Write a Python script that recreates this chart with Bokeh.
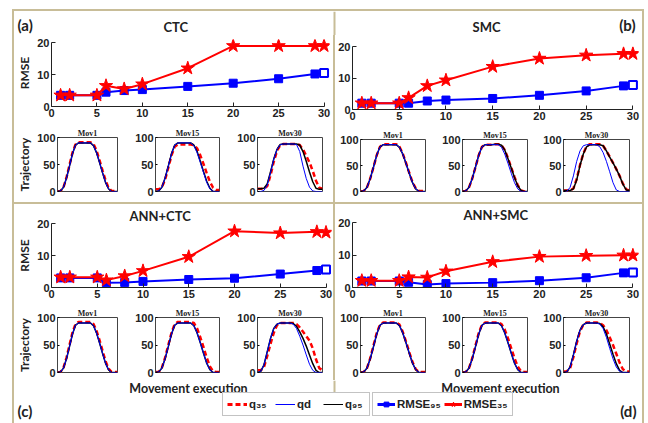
from bokeh.plotting import figure
from bokeh.layouts import column, row
from bokeh.models import (Spacer, Range1d, Label, Legend, LegendItem, FixedTicker,
                          BoxAnnotation)
from bokeh.embed import file_html
from bokeh.resources import INLINE

# ---------------- data ----------------
EXEC = [1, 2, 5, 6, 8, 10, 15, 20, 25, 29, 30]
RMSE_X_TICKS = [0, 5, 10, 15, 20, 25, 30]
RMSE_Y_TICKS = [0, 10, 20]
TRAJ_Y_TICKS = [0, 50, 100]

CTC_RMSE95 = [3.5, 3.5, 3.5, 4.5, 5.0, 5.3, 6.3, 7.3, 8.7, 10.2, 10.5]
CTC_RMSE35 = [3.5, 3.5, 3.5, 6.5, 5.5, 7.0, 12.0, 19.0, 19.0, 19.0, 19.0]
SMC_RMSE95 = [2.0, 2.0, 2.0, 2.0, 2.7, 3.0, 3.5, 4.5, 5.9, 7.5, 7.8]
SMC_RMSE35 = [2.0, 2.0, 2.0, 3.7, 7.5, 9.3, 13.6, 16.2, 17.2, 17.7, 17.7]
ANNCTC_RMSE95 = [3.0, 3.0, 3.0, 1.5, 1.6, 1.9, 2.5, 2.9, 4.2, 5.3, 5.6]
ANNCTC_RMSE35 = [3.2, 3.2, 3.2, 2.3, 3.6, 5.2, 9.6, 17.6, 17.0, 17.4, 17.2]
ANNSMC_RMSE95 = [2.0, 2.0, 2.0, 1.6, 0.9, 1.2, 1.5, 2.1, 3.0, 4.5, 4.6]
ANNSMC_RMSE35 = [2.1, 2.1, 2.1, 3.2, 3.1, 5.0, 7.9, 9.5, 9.8, 9.9, 9.9]

PANEL_TITLES = ["CTC", "SMC", "ANN+CTC", "ANN+SMC"]
PANEL_TAGS = ["(a)", "(b)", "(c)", "(d)"]
MOV_TITLES = ["Mov1", "Mov15", "Mov30"]
X_LABEL = "Movement execution"
LEGEND_LABELS = ["q₃₅", "qd", "q₉₅", "RMSE₉₅", "RMSE₃₅"]

STEP = list(range(21))
QD = [0, 1, 8, 25, 47, 70, 86, 90, 90, 90, 90, 90, 85, 72, 54, 35, 17, 5, 0, 0, 0]
A_MOV1_Q35 = [0, 1, 8, 26, 49, 72, 87, 91, 91, 91, 91, 91, 88, 76, 58, 39, 21, 7, 1, 1, 1]
A_MOV15_Q35 = [4, 4, 8, 22, 44, 67, 83, 87, 87, 87, 87, 87, 86, 80, 67, 51, 34, 18, 7, 3, 3]
A_MOV15_Q95 = [0, 1, 8, 25, 47, 70, 86, 90, 90, 90, 90, 90, 86, 74, 56, 37, 19, 6, 0, 0, 0]
A_MOV30_QD = [0, 0, 2, 12, 35, 60, 78, 87, 88, 88, 88, 88, 87, 74, 47, 24, 8, 1, 0, 0, 0]
A_MOV30_Q95 = [5, 5, 6, 14, 36, 60, 78, 87, 88, 88, 88, 88, 88, 86, 74, 56, 36, 18, 6, 4, 4]
A_MOV30_Q35 = [5, 5, 5, 10, 30, 55, 75, 86, 88, 88, 88, 88, 88, 86, 78, 66, 54, 38, 20, 7, 5]
B_MOV1_Q35 = [0, 1, 8, 25, 47, 70, 86, 91, 91, 91, 91, 91, 86, 73, 55, 36, 18, 6, 1, 1, 1]
B_MOV15_Q35 = [0, 1, 8, 25, 47, 70, 86, 90, 90, 90, 91, 91, 89, 80, 64, 46, 28, 12, 2, 0, 0]
B_MOV15_Q95 = [0, 1, 8, 25, 47, 70, 86, 90, 90, 90, 91, 91, 89, 80, 63, 45, 27, 11, 2, 0, 0]
B_MOV30_QD = [0, 0, 8, 30, 58, 78, 88, 90, 90, 90, 90, 86, 75, 58, 38, 17, 3, 0, 0, 0, 0]
B_MOV30_Q95 = [2, 2, 2, 5, 22, 50, 72, 86, 90, 90, 90, 90, 88, 78, 66, 55, 43, 30, 14, 3, 2]
B_MOV30_Q35 = [2, 2, 2, 6, 24, 51, 73, 87, 91, 91, 91, 91, 88, 78, 67, 55, 43, 30, 15, 4, 2]
C_MOV1_Q35 = [0, 1, 9, 27, 50, 73, 88, 92, 92, 92, 92, 92, 88, 76, 59, 40, 21, 7, 1, 1, 1]
C_MOV15_Q35 = [1, 1, 9, 27, 50, 72, 88, 92, 92, 92, 92, 92, 90, 80, 64, 46, 27, 11, 2, 1, 1]
C_MOV30_QD = [0, 2, 14, 38, 62, 80, 88, 90, 90, 90, 90, 88, 80, 66, 50, 32, 15, 4, 0, 0, 0]
C_MOV30_Q95 = [0, 2, 14, 38, 62, 80, 88, 90, 90, 90, 90, 89, 84, 74, 62, 48, 32, 16, 4, 0, 0]
C_MOV30_Q35 = [4, 4, 10, 30, 52, 72, 86, 90, 90, 90, 90, 90, 88, 82, 74, 66, 58, 44, 24, 8, 4]
D_MOV1_Q35 = [0, 1, 8, 26, 49, 72, 87, 91, 91, 91, 91, 91, 87, 74, 56, 37, 19, 6, 1, 1, 1]
D_MOV15_Q35 = [0, 1, 8, 26, 49, 72, 87, 91, 91, 91, 91, 91, 88, 78, 62, 44, 26, 11, 2, 1, 1]
D_MOV30_QD = [0, 1, 10, 32, 57, 77, 87, 90, 90, 90, 90, 88, 80, 64, 44, 25, 10, 2, 0, 0, 0]
D_MOV30_Q95 = [0, 1, 10, 32, 57, 77, 87, 90, 90, 90, 90, 89, 83, 70, 52, 33, 16, 4, 0, 0, 0]
D_MOV30_Q35 = [2, 2, 8, 28, 53, 75, 87, 91, 91, 91, 91, 90, 86, 77, 64, 50, 34, 18, 6, 2, 2]

# (qd, q35, q95) per movement, per panel
TRAJ = [
    [(QD, A_MOV1_Q35, QD), (QD, A_MOV15_Q35, A_MOV15_Q95), (A_MOV30_QD, A_MOV30_Q35, A_MOV30_Q95)],
    [(QD, B_MOV1_Q35, QD), (QD, B_MOV15_Q35, B_MOV15_Q95), (B_MOV30_QD, B_MOV30_Q35, B_MOV30_Q95)],
    [(QD, C_MOV1_Q35, QD), (QD, C_MOV15_Q35, QD), (C_MOV30_QD, C_MOV30_Q35, C_MOV30_Q95)],
    [(QD, D_MOV1_Q35, QD), (QD, D_MOV15_Q35, QD), (D_MOV30_QD, D_MOV30_Q35, D_MOV30_Q95)],
]
RMSE = [(CTC_RMSE95, CTC_RMSE35), (SMC_RMSE95, SMC_RMSE35),
        (ANNCTC_RMSE95, ANNCTC_RMSE35), (ANNSMC_RMSE95, ANNSMC_RMSE35)]

# ---------------- style ----------------
BLUE = "#0000ff"
RED = "#ff0000"
FRAME = "#c8bd98"
INK = "#222222"
FONT_NUM = "Liberation Sans"
FONT_TXT = "Lato"


def base_fig(width, height, bl, br, bt, bb, xr, yr, axes=True):
    kw = {} if axes else dict(x_axis_type=None, y_axis_type=None)
    p = figure(width=width, height=height, output_backend="svg", toolbar_location=None,
               x_range=xr, y_range=yr, min_border_left=bl, min_border_right=br,
               min_border_top=bt, min_border_bottom=bb,
               background_fill_color="white", border_fill_color="white", **kw)
    p.grid.visible = False
    return p


def blank_fig(width, height, div_bottom=0):
    p = base_fig(width, height, 0, 0, 0, 0, Range1d(-3, -2), Range1d(-3, -2), axes=False)
    p.outline_line_color = None
    p.title.visible = False
    # frame divider between the left and right panels
    p.add_layout(BoxAnnotation(left=319, right=321, bottom=div_bottom, top=height,
                               left_units="screen", right_units="screen",
                               bottom_units="screen", top_units="screen",
                               fill_color=FRAME, fill_alpha=1.0, line_color=None))
    return p


def text(p, txt, x, y, align, size="15px", baseline="middle"):
    p.add_layout(Label(x=x, y=y, x_units="screen", y_units="screen", text=txt,
                       text_align=align, text_baseline=baseline, text_font=FONT_TXT,
                       text_font_size=size, text_font_style="bold", text_color=INK))


def rmse_fig(i, width, height, bl, br, bt, bb, y_end, ylabel, t_off=None):
    p = base_fig(width, height, bl, br, bt, bb, Range1d(0, 30.6), Range1d(0, y_end))
    p.outline_line_color = None
    if t_off is None:
        p.title.visible = False
    else:
        p.title.text = PANEL_TITLES[i]
        p.title.align = "left"
        p.title.offset = t_off
        p.title.standoff = 0
        p.title.text_font = FONT_TXT
        p.title.text_font_size = "13px"
        p.title.text_font_style = "bold"
        p.title.text_color = INK
    p.xaxis.ticker = FixedTicker(ticks=RMSE_X_TICKS)
    p.yaxis.ticker = FixedTicker(ticks=RMSE_Y_TICKS)
    p.xaxis.bounds = (0, 30)
    p.yaxis.bounds = (0, 20)
    for ax in p.axis:
        ax.major_tick_in = 4
        ax.major_tick_out = 0
        ax.minor_tick_line_color = None
        ax.axis_line_color = INK
        ax.major_tick_line_color = INK
        ax.major_label_text_font = FONT_NUM
        ax.major_label_text_font_size = "11px"
        ax.major_label_text_font_style = "bold"
        ax.major_label_text_color = INK
        ax.major_label_standoff = 2
    if ylabel:
        p.yaxis.axis_label = "RMSE"
        p.yaxis.axis_label_text_font = FONT_TXT
        p.yaxis.axis_label_text_font_size = "12px"
        p.yaxis.axis_label_text_font_style = "bold"
        p.yaxis.axis_label_text_color = INK
        p.yaxis.axis_label_standoff = 2
    y95, y35 = RMSE[i]
    p.line(EXEC, y95, line_color=BLUE, line_width=2)
    p.scatter(EXEC, y95, marker="square", size=8, fill_color=BLUE, line_color=BLUE)
    p.scatter(EXEC[-1:], y95[-1:], marker="square", size=8, fill_color="white",
              line_color=BLUE, line_width=2)
    p.line(EXEC, y35, line_color=RED, line_width=2)
    p.scatter(EXEC, y35, marker="star", size=14, fill_color=RED, line_color=RED)
    return p


def traj_fig(i, j, width, height, bl, br, bt, bb, ylabel=False):
    p = base_fig(width, height, bl, br, bt, bb, Range1d(0, 20), Range1d(0, 100))
    p.outline_line_color = "#444444"
    p.title.text = MOV_TITLES[j]
    p.title.align = "center"
    p.title.standoff = 0
    p.title.text_font = "Liberation Serif"
    p.title.text_font_size = "8px"
    p.title.text_font_style = "bold"
    p.title.text_color = INK
    p.yaxis.ticker = FixedTicker(ticks=TRAJ_Y_TICKS)
    ya = p.yaxis[0]
    ya.axis_line_color = None
    ya.major_tick_in = 2
    ya.major_tick_out = 0
    ya.minor_tick_line_color = None
    ya.major_label_text_font = FONT_NUM
    ya.major_label_text_font_size = "11px"
    ya.major_label_text_font_style = "bold"
    ya.major_label_text_color = INK
    ya.major_label_standoff = 2
    if ylabel:
        ya.axis_label = "Trajectory"
        ya.axis_label_text_font = FONT_TXT
        ya.axis_label_text_font_size = "12px"
        ya.axis_label_text_font_style = "bold"
        ya.axis_label_text_color = INK
        ya.axis_label_standoff = 2
    p.xaxis.visible = False
    qd, q35, q95 = TRAJ[i][j]
    p.line(STEP, q35, line_color=RED, line_width=2.5, line_dash="5 3")
    p.line(STEP, q95, line_color="black", line_width=1.5)
    p.line(STEP, qd, line_color=BLUE, line_width=1)
    return p


def bar(w, h):
    return Spacer(width=w, height=h, styles={"background-color": FRAME})


# header strip: panel tags (a), (b) and the titles CTC, SMC
header = blank_fig(628, 24)
text(header, PANEL_TAGS[0], 3, 11, "left")
text(header, PANEL_TITLES[0], 149, 9, "left", size="13px")
text(header, PANEL_TAGS[1], 621, 11, "right")
text(header, PANEL_TITLES[1], 458, 8.5, "left", size="13px")

# panel (a)
ra = rmse_fig(0, 319, 90, 29, 4, 4, 19, 21, True)
ta = row(traj_fig(0, 0, 114, 77, 38, 11, 12, 11, ylabel=True),
         traj_fig(0, 1, 98, 77, 27, 7, 12, 11),
         traj_fig(0, 2, 107, 77, 31, 11, 12, 11))
# panel (b)
rb = rmse_fig(1, 307, 93, 16, 4, 11, 19, 20, False)
tb = row(traj_fig(1, 0, 102, 74, 25, 12, 9, 11),
         traj_fig(1, 1, 101, 74, 25, 11, 9, 11),
         traj_fig(1, 2, 104, 74, 25, 13, 9, 11))
# panel (c)
rc = rmse_fig(2, 319, 101, 28, 2, 19, 18, 20, True, t_off=78)
tc = row(traj_fig(2, 0, 114, 75, 38, 11, 12, 8, ylabel=True),
         traj_fig(2, 1, 98, 75, 27, 7, 12, 8),
         traj_fig(2, 2, 107, 75, 31, 11, 12, 8))
# panel (d)
rd = rmse_fig(3, 307, 101, 16, 4, 18, 18, 20, False, t_off=111)
td = row(traj_fig(3, 0, 102, 75, 25, 12, 12, 8),
         traj_fig(3, 1, 101, 75, 25, 11, 12, 8),
         traj_fig(3, 2, 104, 75, 25, 13, 12, 8))

# bottom strip: x labels, legends, panel tags (data drawn off-view only to feed legend glyphs)
strip = blank_fig(628, 43, div_bottom=14)
text(strip, X_LABEL, 174, 35, "center", size="12.5px")
text(strip, X_LABEL, 486, 35, "center", size="12.5px")
text(strip, PANEL_TAGS[2], 3, 13, "left")
text(strip, PANEL_TAGS[3], 622, 13, "right")
l_q35 = strip.line(STEP, QD, line_color=RED, line_width=3, line_dash="5 3")
l_qd = strip.line(STEP, QD, line_color=BLUE, line_width=1)
l_q95 = strip.line(STEP, QD, line_color="black", line_width=1)
l_r95 = strip.line(EXEC, CTC_RMSE95, line_color=BLUE, line_width=3)
m_r95 = strip.scatter(EXEC, CTC_RMSE95, marker="square", size=9, fill_color=BLUE, line_color=BLUE)
l_r35 = strip.line(EXEC, CTC_RMSE35, line_color=RED, line_width=3)
m_r35 = strip.scatter(EXEC, CTC_RMSE35, marker="star", size=15, fill_color=RED, line_color=RED)


def legend(items, x, gw, spacing):
    lg = Legend(items=items, orientation="horizontal", location=(x, 7),
                label_text_font=FONT_NUM, label_text_font_size="11.5px",
                label_text_font_style="bold", label_text_color=INK,
                glyph_width=gw, glyph_height=12, label_standoff=2, spacing=spacing,
                padding=4, margin=0, border_line_color="#888888", border_line_width=1,
                background_fill_color="white", background_fill_alpha=1.0,
                label_height=14)
    strip.add_layout(lg)


legend([LegendItem(label=LEGEND_LABELS[0], renderers=[l_q35]),
        LegendItem(label=LEGEND_LABELS[1], renderers=[l_qd]),
        LegendItem(label=LEGEND_LABELS[2], renderers=[l_q95])], 208, 20, 6)
legend([LegendItem(label=LEGEND_LABELS[3], renderers=[l_r95, m_r95]),
        LegendItem(label=LEGEND_LABELS[4], renderers=[l_r35, m_r35])], 358, 18, 3)

top_row = row(column(ra, ta), bar(2, 167), column(rb, tb))
bottom_row = row(column(rc, tc), bar(2, 176), column(rd, td))
content = column(header, top_row, bar(628, 2), bottom_row, strip)
framed = column(bar(632, 2), row(bar(2, 412), content, bar(2, 412)))
root = column(Spacer(width=10, height=9), row(Spacer(width=12, height=10), framed))

open("out.html", "w").write(file_html(root, INLINE))
